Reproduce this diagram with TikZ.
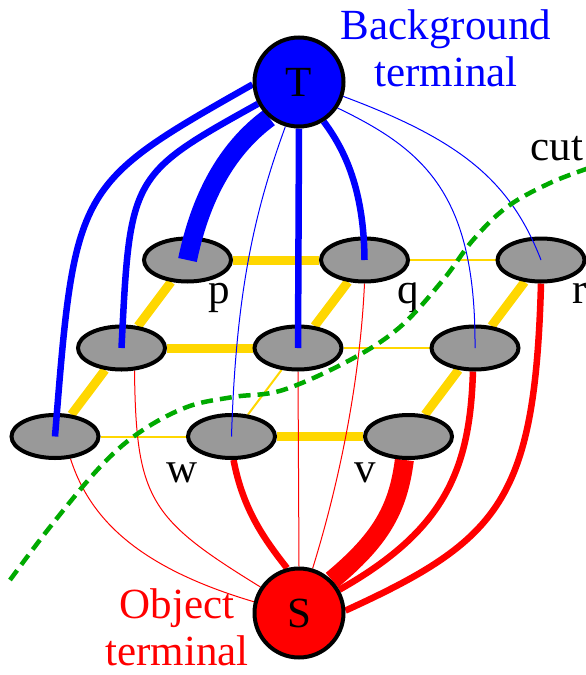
\documentclass[tikz,border=0pt]{standalone}
\usepackage{fontspec}
\setmainfont{Liberation Serif}
\usepackage{xcolor}
\usepackage{tikz}
\usetikzlibrary{shapes.geometric}

\definecolor{nlinkyellow}{RGB}{255,215,0}
\definecolor{pixgray}{RGB}{153,153,153}
\definecolor{cutgreen}{RGB}{0,170,0}

\pgfdeclarelayer{background}
\pgfdeclarelayer{foreground}
\pgfsetlayers{background,main,foreground}

\begin{document}
\begin{tikzpicture}[x=1pt, y=-1pt,
		every node/.style={font=\fontsize{43}{47}\selectfont, inner sep=0pt},
		pixel/.style={draw, ellipse, line width=4pt, fill=pixgray, minimum width=87pt, minimum height=43pt},
		term/.style={draw, circle, line width=4pt, minimum size=89pt},
		nthick/.style={nlinkyellow, line width=9pt},
		nthin/.style={nlinkyellow, line width=2pt},
		tthick/.style={line width=6.5pt},
		tfat/.style={line width=19pt},
		tthin/.style={line width=1pt}]
		\useasboundingbox (0,0) rectangle (586,675);
		\node[pixel] (p) at (187.5,260) {};
		\node[pixel] (q) at (364.5,260) {};
		\node[pixel] (r) at (541,260) {};
		\node[pixel] (l) at (121.5,348) {};
		\node[pixel] (m) at (298,348) {};
		\node[pixel] (n) at (475,348) {};
		\node[pixel] (u) at (55,436.5) {};
		\node[pixel] (w) at (231.5,436.5) {};
		\node[pixel] (v) at (408.5,436.5) {};
		\begin{pgfonlayer}{foreground}
			\node[term, fill=blue] (T) at (299,82) {T};
			\node[term, fill=red] (S) at (299,613) {S};
		\end{pgfonlayer}
		\node[anchor=base] (plab) at (219,303) {p};
		\node[anchor=base] (qlab) at (408,303) {q};
		\node[anchor=base] (rlab) at (580,303) {r};
		\node[anchor=base] (wlab) at (182,482) {w};
		\node[anchor=base] (vlab) at (365,482) {v};
		\node[blue, align=center, anchor=north] (bglab) at (446,9) {Background\\terminal};
		\node[red, align=center, anchor=north] (oblab) at (177,588) {Object\\terminal};
		\node[anchor=base] (cutlab) at (557,160) {cut};
		\begin{pgfonlayer}{background}
			\draw[nthick] (p) -- (q);
			\draw[nthin] (q) -- (r);
			\draw[nthick] (l) -- (m);
			\draw[nthin] (m) -- (n);
			\draw[nthin] (u) -- (w);
			\draw[nthick] (w) -- (v);
			\draw[nthick] (p) -- (l);
			\draw[nthick] (l) -- (u);
			\draw[nthick] (q) -- (m);
			\draw[nthin] (m) -- (w);
			\draw[nthick] (r) -- (n);
			\draw[nthick] (n) -- (v);
			\draw[red, tthin] (u.-55) .. controls (90,520) and (140,568) .. (S.166);
			\draw[red, tthin] (l.-60) .. controls (136,500) and (150,519) .. (S.146);
			\draw[red, tthick] (w.-85) .. controls (243,510) and (265,540) .. (S.105);
			\draw[red, tthin] (m.south) -- (S.north);
			\draw[red, tthin] (q.south) .. controls (360,380) and (340,480) .. (S.73);
			\draw[red, tfat] (v.-100) .. controls (398,510) and (380,540) .. (S.45);
			\draw[red, tthick] (n.-95) .. controls (470,470) and (445,530) .. (S.30);
			\draw[red, tthick] (r.south) .. controls (535,500) and (500,540) .. (S.3);
		\end{pgfonlayer}
		\draw[blue, tthick] (T.183) .. controls (75,185) .. (u.center);
		\draw[blue, tthick] (T.208) .. controls (130,175) .. (l.center);
		\draw[blue, tfat] (T.230) .. controls (225,150) and (200,200) .. (p.center);
		\draw[blue, tthin] (T.253) .. controls (255,210) and (236,290) .. (w.center);
		\draw[blue, tthick] (T.south) -- (m.center);
		\draw[blue, tthick] (T.302) .. controls (345,150) and (364,190) .. (q.center);
		\draw[blue, tthin] (T.326) .. controls (425,150) and (476,195) .. (n.center);
		\draw[blue, tthin] (T.342) .. controls (460,140) and (510,180) .. (r.center);
		\draw[cutgreen, line width=4.5pt, dash pattern=on 12pt off 7pt] plot[smooth, tension=0.6] coordinates {(10,580) (50,527) (100,467) (140,432) (187,407) (233,397) (283,390) (350,360) (400,327) (443,280) (473,240) (507,207) (550,183) (592,167)};
	\end{tikzpicture}
\end{document}
